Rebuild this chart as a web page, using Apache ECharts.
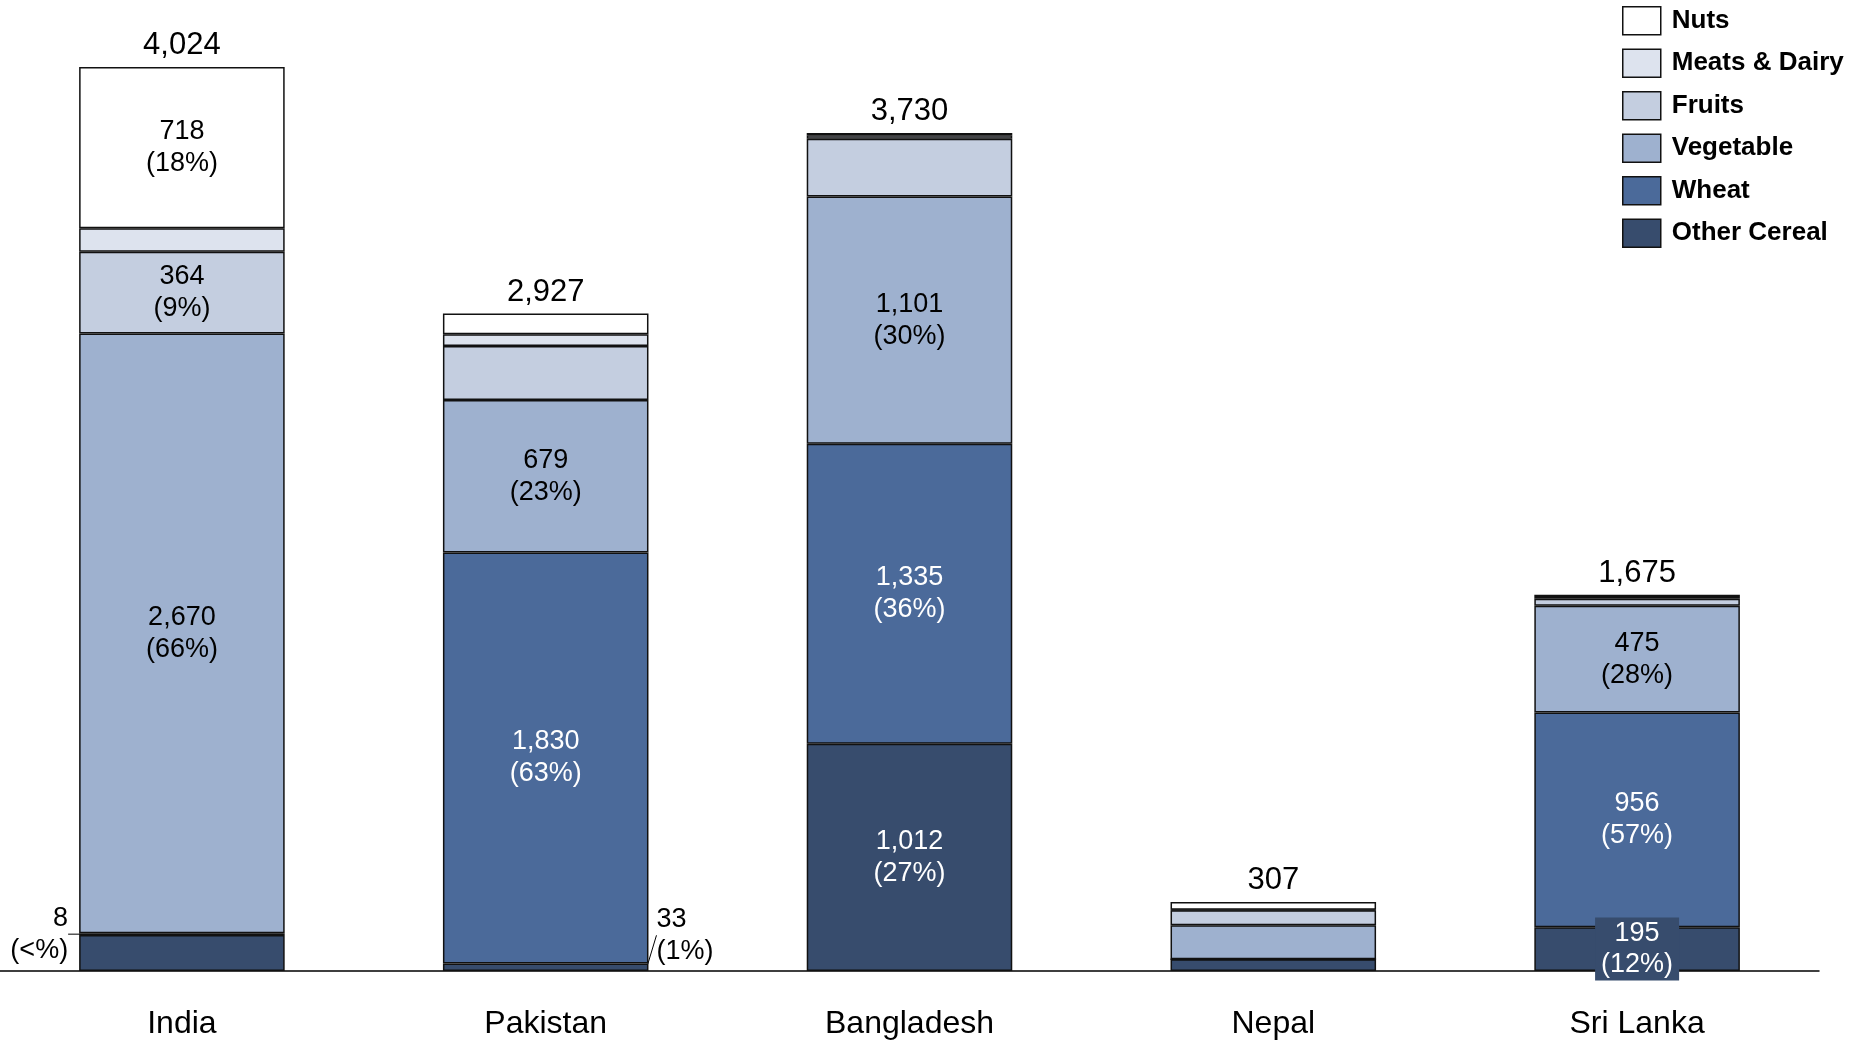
<!DOCTYPE html>
<html>
<head>
<meta charset="utf-8">
<style>
  html, body { margin: 0; padding: 0; background: #fff; }
  #chart { width: 1852px; height: 1045px; }
</style>
<script src="https://cdn.jsdelivr.net/npm/echarts@6/dist/echarts.min.js"></script>
</head>
<body>
<div id="chart"></div>
<script>
// Countries on the x axis
const countries = ['India', 'Pakistan', 'Bangladesh', 'Nepal', 'Sri Lanka'];

// Food groups, one array per stacked segment (bottom to top)
const otherCereal = [160, 33, 1012, 52, 195];
const wheat       = [8, 1830, 1335, 0, 956];
const vegetable   = [2670, 679, 1101, 152, 475];
const fruits      = [364, 240, 257, 66, 31];
const meatsDairy  = [104, 53, 15, 3, 8];
const nuts        = [718, 92, 10, 34, 10];

const legendOrder = ['Nuts', 'Meats & Dairy', 'Fruits', 'Vegetable', 'Wheat', 'Other Cereal'];

const FONT = "'Liberation Sans', Arial, sans-serif";
const BORDER = '#111';

const groups = [
  { name: 'Other Cereal',  values: otherCereal, color: '#374c6d', text: '#fff', labelled: [2, 4] },
  { name: 'Wheat',         values: wheat,       color: '#4b6a9a', text: '#fff', labelled: [1, 2, 4] },
  { name: 'Vegetable',     values: vegetable,   color: '#9eb1cf', text: '#000', labelled: [0, 1, 2, 4] },
  { name: 'Fruits',        values: fruits,      color: '#c4cee0', text: '#000', labelled: [0] },
  { name: 'Meats & Dairy', values: meatsDairy,  color: '#dde3ee', text: '#000', labelled: [] },
  { name: 'Nuts',          values: nuts,        color: '#ffffff', text: '#000', labelled: [0] }
];

const totals = countries.map((_, i) => groups.reduce((s, g) => s + g.values[i], 0));
const fmt = v => v.toLocaleString('en-US');
const pct = (v, i) => {
  const p = v / totals[i] * 100;
  return p > 0 && Math.round(p) < 1 ? '<%' : Math.round(p) + '%';
};
const labelText = (v, i) => fmt(v) + '\n(' + pct(v, i) + ')';

const BAR_WIDTH = '56.5%';

const baseLabel = {
  fontFamily: FONT,
  fontSize: 27,
  lineHeight: 32
};

const series = groups.map(g => ({
  name: g.name,
  type: 'bar',
  stack: 'food',
  barWidth: BAR_WIDTH,
  itemStyle: { color: g.color, borderColor: BORDER, borderWidth: 1.5 },
  emphasis: { disabled: true },
  data: g.values.map((v, i) => {
    const item = { value: v };
    if (g.labelled.includes(i)) {
      item.label = Object.assign({}, baseLabel, {
        show: true,
        position: 'inside',
        color: g.text,
        formatter: () => labelText(v, i)
      });
    }
    return item;
  })
}));

// small segments labelled outside the bar, with leader lines
const wheatSeries = series[1];
wheatSeries.data[0].label = Object.assign({}, baseLabel, {
  show: true,
  position: 'left',
  distance: 10,
  align: 'right',
  color: '#000',
  formatter: () => labelText(wheat[0], 0)
});
wheatSeries.data[0].labelLine = { show: true, lineStyle: { color: '#000', width: 1 } };
wheatSeries.labelLayout = p => (p.dataIndex === 0 ? { dx: -1 } : {});

const cerealSeries = series[0];
cerealSeries.data[1].label = Object.assign({}, baseLabel, {
  show: true,
  position: 'right',
  distance: 8,
  align: 'left',
  color: '#000',
  formatter: () => labelText(otherCereal[1], 1)
});
cerealSeries.data[1].labelLine = { show: true, lineStyle: { color: '#000', width: 1 } };
cerealSeries.labelLayout = p => (p.dataIndex === 1 ? { dy: -32 } : {});

// boxed label on the thin Sri Lanka cereal segment
cerealSeries.data[4].label = Object.assign({}, baseLabel, {
  show: true,
  position: 'inside',
  color: '#fff',
  lineHeight: 31.5,
  backgroundColor: '#374c6d',
  padding: [0, 6],
  formatter: () => labelText(otherCereal[4], 4)
});

// totals above each stack
series.push({
  name: 'Total',
  type: 'bar',
  stack: 'food',
  barWidth: BAR_WIDTH,
  itemStyle: { color: 'transparent', borderWidth: 0 },
  emphasis: { disabled: true },
  label: {
    show: true,
    position: 'top',
    distance: 6,
    fontFamily: FONT,
    fontSize: 31,
    color: '#000',
    formatter: p => fmt(totals[p.dataIndex])
  },
  data: countries.map(() => 0)
});

const chart = echarts.init(document.getElementById('chart'), null, { renderer: 'canvas' });
chart.setOption({
  animation: false,
  backgroundColor: '#fff',
  textStyle: { fontFamily: FONT },
  legend: {
    data: legendOrder,
    orient: 'vertical',
    left: 1617,
    top: 1,
    itemWidth: 38,
    itemHeight: 28,
    itemGap: 13,
    selectedMode: false,
    icon: 'rect',
    itemStyle: { borderColor: BORDER, borderWidth: 1.5 },
    textStyle: { fontFamily: FONT, fontSize: 26, fontWeight: 'bold', color: '#000', padding: [0, 0, 0, 6] }
  },
  grid: { left: 0, right: 33, top: 10, bottom: 74, containLabel: false },
  xAxis: {
    type: 'category',
    data: countries,
    axisLine: { show: true, lineStyle: { color: '#000', width: 1.5 } },
    axisTick: { show: false },
    axisLabel: { fontFamily: FONT, fontSize: 32, color: '#000', margin: 37 }
  },
  yAxis: {
    type: 'value',
    min: 0,
    max: 4278,
    show: false,
    splitLine: { show: false }
  },
  series: series
});
</script>
</body>
</html>
